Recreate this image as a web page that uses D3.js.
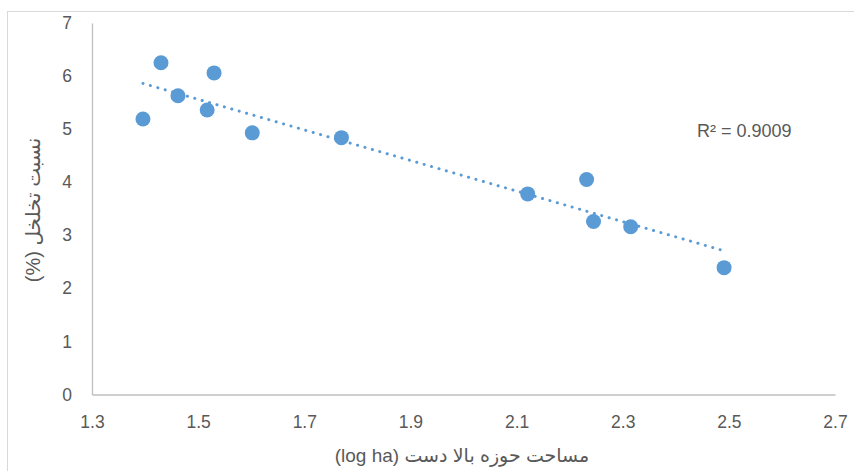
<!DOCTYPE html>
<html>
<head>
<meta charset="utf-8">
<script src="https://cdn.jsdelivr.net/npm/d3@7"></script>
<style>
  html, body { margin: 0; padding: 0; background: #fff; }
  svg { display: block; }
  text { font-family: "Liberation Sans", "DejaVu Sans", sans-serif; fill: #595959; }
</style>
</head>
<body>
<svg id="svg" width="854" height="471"></svg>
<script>
// data
const areaLog = [1.396, 1.430, 1.462, 1.517, 1.530, 1.602, 1.770, 2.121, 2.232, 2.245, 2.315, 2.491];
const porosity = [5.19, 6.25, 5.63, 5.36, 6.06, 4.93, 4.84, 3.78, 4.05, 3.26, 3.16, 2.39];
const xTicks = [1.3, 1.5, 1.7, 1.9, 2.1, 2.3, 2.5, 2.7];
const yTicks = [0, 1, 2, 3, 4, 5, 6, 7];
const r2Label = "R\u00B2 = 0.9009";
const xTitle = "مساحت حوزه بالا دست (log ha)";
const yTitle = "نسبت تخلخل (%)";

const blue = "#5B9BD5";
const svg = d3.select("#svg");

// outer chart border
svg.append("rect")
  .attr("x", 7.5).attr("y", 11.5)
  .attr("width", 900).attr("height", 500)
  .attr("fill", "none")
  .attr("stroke", "#D9D9D9");

const x = d3.scaleLinear().domain([1.3, 2.7]).range([92, 835]);
const y = d3.scaleLinear().domain([0, 7]).range([394.5, 23]);

// axes
const xAxis = svg.append("g")
  .attr("transform", `translate(0,${y(0)})`)
  .call(d3.axisBottom(x).tickValues(xTicks).tickSize(0).tickPadding(21).tickFormat(d3.format(".1f")));
const yAxis = svg.append("g")
  .attr("transform", `translate(${x(1.3)},0)`)
  .call(d3.axisLeft(y).tickValues(yTicks).tickSize(0).tickPadding(20).tickFormat(d3.format("d")));

[xAxis, yAxis].forEach(g => {
  g.select(".domain").attr("stroke", "#BFBFBF").attr("stroke-width", 1.3);
  g.selectAll("text")
    .attr("font-family", "Liberation Sans, sans-serif")
    .attr("font-size", 17.5)
    .attr("fill", "#595959");
});

// linear trendline (least squares)
const mx = d3.mean(areaLog), my = d3.mean(porosity);
const slope = d3.sum(areaLog, (v, i) => (v - mx) * (porosity[i] - my)) /
              d3.sum(areaLog, v => (v - mx) * (v - mx));
const intercept = my - slope * mx;
const xExt = d3.extent(areaLog);
const trend = xExt.map(v => [v, intercept + slope * v]);

svg.append("path")
  .datum(trend)
  .attr("d", d3.line().x(d => x(d[0])).y(d => y(d[1])))
  .attr("fill", "none")
  .attr("stroke", blue)
  .attr("stroke-width", 3)
  .attr("stroke-linecap", "round")
  .attr("stroke-dasharray", "0.1 7.6");

// points
svg.selectAll(".pt")
  .data(areaLog)
  .enter()
  .append("circle")
  .attr("class", "pt")
  .attr("cx", d => x(d))
  .attr("cy", (d, i) => y(porosity[i]))
  .attr("r", 7.5)
  .attr("fill", blue);

// R squared label
svg.append("text")
  .attr("x", 697).attr("y", 137)
  .attr("font-size", 18)
  .text(r2Label);

// axis titles
svg.append("text")
  .attr("x", 462).attr("y", 462)
  .attr("text-anchor", "middle")
  .attr("direction", "rtl")
  .attr("font-family", "DejaVu Sans, sans-serif")
  .attr("font-size", 19)
  .attr("fill", "#404040")
  .text(xTitle);

svg.append("text")
  .attr("transform", "translate(40,210) rotate(-90)")
  .attr("text-anchor", "middle")
  .attr("direction", "rtl")
  .attr("font-family", "DejaVu Sans, sans-serif")
  .attr("font-size", 20)
  .attr("fill", "#404040")
  .text(yTitle);
</script>
</body>
</html>
